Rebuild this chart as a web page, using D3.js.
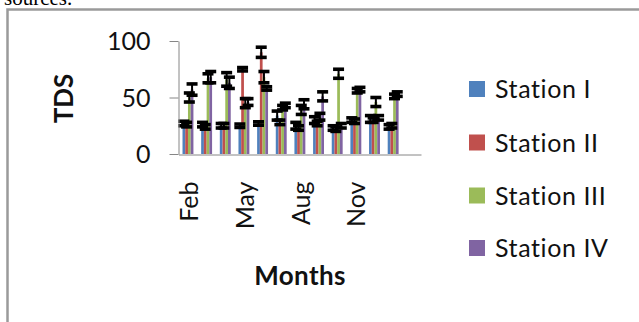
<!DOCTYPE html>
<html>
<head>
<meta charset="utf-8">
<script src="https://cdn.jsdelivr.net/npm/d3@7"></script>
<style>
  html, body { margin: 0; padding: 0; background: #fff; }
  svg { display: block; }
</style>
</head>
<body>
<svg id="chart" width="639" height="322"></svg>
<script>
// ---- data ----
const months = ["Feb","Mar","Apr","May","Jun","Jul","Aug","Sep","Oct","Nov","Dec","Jan",""];
const tickMonths = ["Feb","May","Aug","Nov"];
const seriesNames = ["Station I","Station II","Station III","Station IV"];
const seriesColors = ["#4F81BD","#C0504D","#9BBB59","#8064A2"];
const station1 = [27,26,25,25,27,34,25,30,23,30,31,24,null];
const station2 = [26,24,25,75,90,28,23,27,22,29,30,25,null];
const station3 = [50,67,66,45,68,41,39,33,71,56,46,51,null];
const station4 = [57,68,63,46,58,43,44,51,25,57,32,53,null];
const err1 = [2,2,2,1.5,1.5,4,3,3,2,2,3,2,null];
const err2 = [2,2,2,1.5,4.5,2,2,2,2,2,2,2,null];
const err3 = [4,4,6,4,5,2,4,3,4,2,4,2,null];
const err4 = [5,5,5,3,1.5,2,4,4,2,2,2,2,null];
const yTicks = [0,50,100];

const values = [station1, station2, station3, station4];
const errors = [err1, err2, err3, err4];

const svg = d3.select("#chart");

// fragment of text above the frame (cut off at the top, as in the reference)
svg.append("text").attr("x", 4).attr("y", 5)
  .attr("font-family", "Liberation Serif").attr("font-size", 21)
  .attr("fill", "#000").text("sources.");

// frame
svg.append("rect").attr("x", 7.5).attr("y", 9.5).attr("width", 660).attr("height", 340)
  .attr("fill", "none").attr("stroke", "#9a9a9a").attr("stroke-width", 2.5);

const x0 = d3.scaleBand().domain(months).range([178.5, 421]).paddingInner(0).paddingOuter(0);
const bw = x0.bandwidth();
const x1 = d3.scaleBand().domain(seriesNames).range([bw * 0.215, bw * 0.80]).padding(0);
const y = d3.scaleLinear().domain([0, 100]).range([154, 41]);

// bars
const rows = [];
months.forEach((m, i) => {
  seriesNames.forEach((s, j) => {
    if (values[j][i] != null) rows.push({m, s, j, v: values[j][i], e: errors[j][i]});
  });
});

const gBars = svg.append("g");
gBars.selectAll("rect").data(rows).join("rect")
  .attr("x", d => x0(d.m) + x1(d.s))
  .attr("y", d => y(d.v))
  .attr("width", x1.bandwidth())
  .attr("height", d => y(0) - y(d.v))
  .attr("fill", d => seriesColors[d.j]);

// error bars
const gErr = svg.append("g").attr("stroke", "#000");
const cx = d => x0(d.m) + x1(d.s) + x1.bandwidth() / 2;
gErr.selectAll("line.v").data(rows).join("line").attr("class", "v")
  .attr("x1", cx).attr("x2", cx)
  .attr("y1", d => y(d.v + d.e)).attr("y2", d => y(d.v - d.e))
  .attr("stroke-width", 2);
const caps = [];
rows.forEach(d => { caps.push({d, val: d.v + d.e}); caps.push({d, val: d.v - d.e}); });
gErr.selectAll("line.c").data(caps).join("line").attr("class", "c")
  .attr("x1", c => cx(c.d) - 5.5).attr("x2", c => cx(c.d) + 5.5)
  .attr("y1", c => y(c.val)).attr("y2", c => y(c.val))
  .attr("stroke-width", 3.6);

// y axis
const yAxis = d3.axisLeft(y).tickValues(yTicks).tickSize(9).tickPadding(19).tickSizeOuter(0);
const gy = svg.append("g").attr("transform", "translate(178.5,0)").call(yAxis);
gy.select(".domain").attr("stroke", "#868686");
gy.selectAll(".tick line").attr("stroke", "#868686");
gy.selectAll(".tick text").attr("font-family", "Lato").attr("font-size", 25)
  .attr("fill", "#111").attr("dy", "0.34em");

// x axis
const xAxis = d3.axisBottom(x0).tickValues(tickMonths).tickSize(0).tickSizeOuter(0);
const gx = svg.append("g").attr("transform", "translate(0,154.5)").call(xAxis);
gx.select(".domain").attr("stroke", "#868686");
gx.selectAll(".tick text").attr("font-family", "Lato").attr("font-size", 25)
  .attr("fill", "#111")
  .attr("transform", "rotate(-90)")
  .attr("text-anchor", "end")
  .attr("x", -27).attr("y", 1).attr("dy", "0.35em");

// axis titles
svg.append("text").attr("transform", "translate(64,98.5) rotate(-90)")
  .attr("text-anchor", "middle").attr("dy", "0.36em")
  .attr("font-family", "Lato").attr("font-weight", "bold").attr("font-size", 26)
  .attr("fill", "#111").text("TDS");
svg.append("text").attr("x", 300).attr("y", 276).attr("dy", "0.36em")
  .attr("text-anchor", "middle")
  .attr("font-family", "Lato").attr("font-weight", "bold").attr("font-size", 26)
  .attr("letter-spacing", 0.4)
  .attr("fill", "#111").text("Months");

// legend
const legY = [89, 142.5, 195.5, 248];
const leg = svg.append("g").selectAll("g").data(seriesNames).join("g")
  .attr("transform", (d, i) => `translate(469,${legY[i]})`);
leg.append("rect").attr("x", 0).attr("y", -8).attr("width", 16).attr("height", 16)
  .attr("fill", (d, i) => seriesColors[i]);
leg.append("text").attr("x", 26).attr("dy", "0.36em")
  .attr("font-family", "Lato").attr("font-size", 25).attr("fill", "#111")
  .attr("letter-spacing", 0.6)
  .text(d => d);
</script>
</body>
</html>
